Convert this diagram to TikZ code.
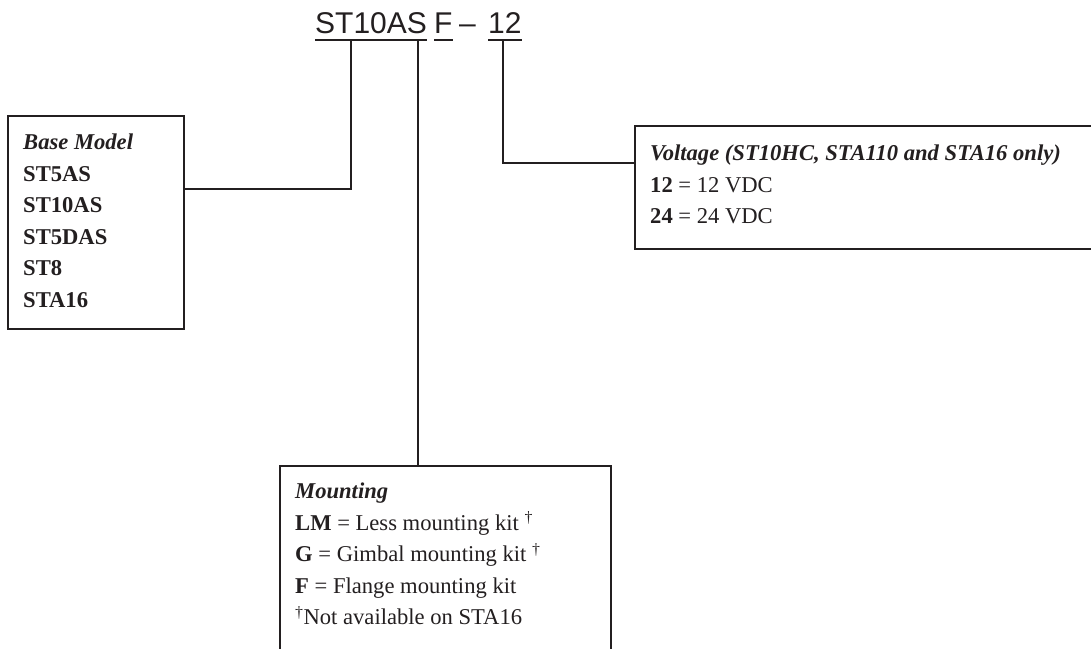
\documentclass[tikz,border=0pt]{standalone}
\usepackage{fontspec}
\setmainfont{Liberation Serif}
\newfontfamily\codefont{Liberation Sans}
\usetikzlibrary{positioning}
\definecolor{ink}{HTML}{231F20}
\tikzset{
  box/.style={draw=ink, line width=2pt, inner sep=0pt},
  boxtext/.style={anchor=north west, inner sep=0pt, align=left, text=ink,
    font=\fontsize{22.6}{31.5}\selectfont},
  codepart/.style={anchor=base west, inner xsep=0pt, inner ysep=6.5pt, text=ink,
    font=\codefont\fontsize{30}{30}\selectfont},
  link/.style={draw=ink, line width=2pt}
}

\begin{document}
\begin{tikzpicture}[x=1pt,y=-1pt]
  \useasboundingbox (0,0) rectangle (1091,648);
  % part number
  \node[codepart] (tbase) at (315,33) {ST10AS};
  \node[codepart] (tmount) at (434,33) {F};
  \node[codepart] (tdash) at (459,33) {–};
  \node[codepart] (tvolt) at (488,33) {12};
  \foreach \n in {tbase,tmount,tvolt} {
    \draw[link] (\n.south west) -- (\n.south east);
  }
  % boxes
  \node[box, minimum width=176pt, minimum height=213pt, anchor=north west] (basebox) at (7,115) {};
  \node[boxtext] (basetext) at ([shift={(16pt,-19pt)}]basebox.north west)
    {\textbf{\textit{Base Model}}\\ \textbf{ST5AS}\\ \textbf{ST10AS}\\
     \textbf{ST5DAS}\\ \textbf{ST8}\\ \textbf{STA16}};
  \node[box, minimum width=459pt, minimum height=123pt, anchor=north west] (voltbox) at (634,125) {};
  \node[boxtext] (volttext) at ([shift={(16pt,-20pt)}]voltbox.north west)
    {\textbf{\textit{Voltage (ST10HC, STA110 and STA16 only)}}\\
     \textbf{12} = 12 VDC\\ \textbf{24} = 24 VDC};
  \node[box, minimum width=331pt, minimum height=200pt, anchor=north west] (mountbox) at (279,465) {};
  \node[boxtext] (mounttext) at ([shift={(16pt,-18pt)}]mountbox.north west)
    {\textbf{\textit{Mounting}}\\
     \textbf{LM} = Less mounting kit \textsuperscript{†}\\
     \textbf{G} = Gimbal mounting kit \textsuperscript{†}\\
     \textbf{F} = Flange mounting kit\\
     \textsuperscript{†}Not available on STA16};
  % connectors
  \draw[link] ([xshift=36pt]tbase.south west) |- ([yshift=-74pt]basebox.north east);
  \draw[link] ([xshift=103pt]tbase.south west) -- ([xshift=139pt]mountbox.north west);
  \draw[link] ([xshift=15pt]tvolt.south west) |- ([yshift=-38pt]voltbox.north west);
\end{tikzpicture}
\end{document}
